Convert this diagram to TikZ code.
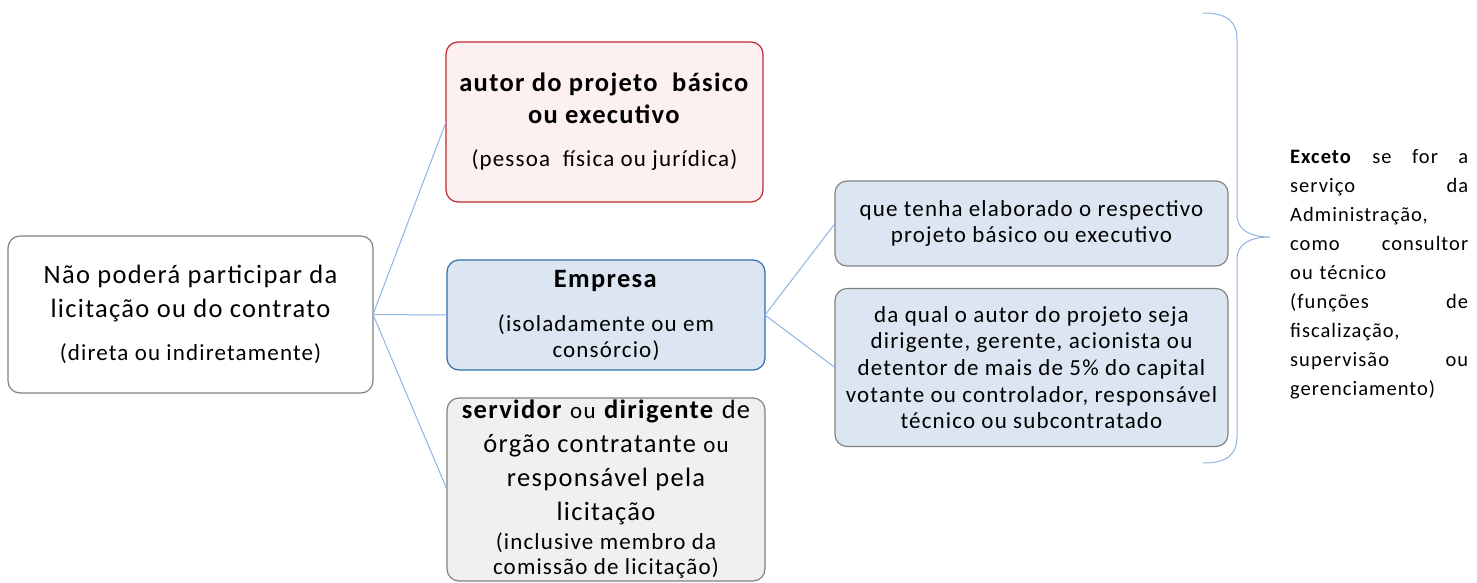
\documentclass[tikz,border=0pt]{standalone}
\usepackage{fontspec}
\setmainfont{Carlito}[LetterSpace=5]
\usetikzlibrary{calc}
\definecolor{redline}{RGB}{192,40,45}
\definecolor{pinkfill}{RGB}{253,240,240}
\definecolor{blueline}{RGB}{46,110,175}
\definecolor{bluefill}{RGB}{220,230,242}
\definecolor{grayline}{RGB}{130,130,130}
\definecolor{grayfill}{RGB}{240,240,240}
\definecolor{conn}{RGB}{141,180,226}
\tikzset{
  box/.style={draw=grayline, line width=1.2pt, rounded corners=12pt, align=center, inner sep=0pt, outer sep=0pt},
  link/.style={draw=conn, line width=1pt},
  big/.style={font=\fontsize{26.5}{34}\selectfont},
  small/.style={font=\fontsize{23}{26.7}\selectfont},
}
\newcommand{\subtxt}{\fontsize{23}{26.7}\selectfont}
\begin{document}
\begin{tikzpicture}[x=1pt,y=-1pt]
\useasboundingbox (0,0) rectangle (1477,582);
\node[box, fill=white, minimum width=365pt, minimum height=157pt, big] (root) at (190.5,314.5)
  {Não poderá participar da\\licitação ou do contrato\\[9pt]\subtxt (direta ou indiretamente)};
\node[box, draw=redline, fill=pinkfill, minimum width=317pt, minimum height=160pt, big] (autor) at (604.5,122)
  {\textbf{autor do projeto\ \ básico}\\[-2pt]\textbf{ou executivo}\\[9pt]\subtxt (pessoa\ \ física ou jurídica)};
\node[box, draw=blueline, fill=bluefill, minimum width=318pt, minimum height=110pt, big] (emp) at (606,315)
  {\textbf{Empresa}\\[10pt]\subtxt (isoladamente ou em\\[-8pt]\subtxt consórcio)};
\node[box, fill=grayfill, minimum width=318pt, minimum height=183pt, big, anchor=north] (serv) at (606,398)
  {\textbf{servidor} {\subtxt ou} \textbf{dirigente} de\\órgão contratante {\subtxt ou}\\responsável pela\\licitação\\[-5pt]\subtxt (inclusive membro da\\[-9pt]\subtxt comissão de licitação)};
\node[box, fill=bluefill, minimum width=393pt, minimum height=85pt, small] (que) at (1031.5,223.5)
  {que tenha elaborado o respectivo\\projeto básico ou executivo};
\node[box, fill=bluefill, minimum width=393pt, minimum height=158pt, small] (qual) at (1031.5,367.5)
  {da qual o autor do projeto seja\\dirigente, gerente, acionista ou\\detentor de mais de 5\% do capital\\votante ou controlador, responsável\\técnico ou subcontratado};
\draw[link] (root.east) -- (autor.west);
\draw[link] (root.east) -- (emp.west);
\draw[link] (root.east) -- (serv.west);
\draw[link] (emp.east) -- (que.west);
\draw[link] (emp.east) -- (qual.west);
\draw[conn, line width=1pt] (1203,13) .. controls (1228,13) and (1237,22) .. (1237,40) -- (1237,215)
  .. controls (1237,231) and (1252,237) .. (1270,237)
  .. controls (1252,237) and (1237,243) .. (1237,259) -- (1237,436)
  .. controls (1237,454) and (1228,463) .. (1203,463);
\node[anchor=north west, text width=178pt, align=left, inner sep=0pt, font=\fontsize{20.5}{29}\selectfont] (exc) at (1290,149)
  {\textbf{Exceto}\hfill se\hfill for\hfill a\\
   serviço\hfill da\\
   Administração,\\
   como\hfill consultor\\
   ou técnico\\
   (funções\hfill de\\
   fiscalização,\\
   supervisão\hfill ou\\
   gerenciamento)};
\end{tikzpicture}
\end{document}
